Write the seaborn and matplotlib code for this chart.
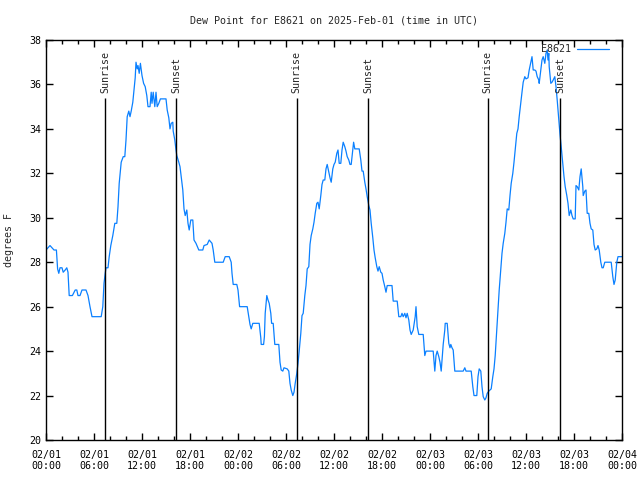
import matplotlib
matplotlib.use("Agg")
import matplotlib.pyplot as plt
import matplotlib.dates as mdates
import seaborn as sns
import pandas as pd

# Dew point trace, hours after 2025-02-01 00:00 UTC
hours = [0.0, 0.5, 1.0, 1.3, 1.45, 1.6, 1.75, 2.0, 2.15, 2.4, 2.6, 2.75, 2.9, 3.3,
         3.65, 3.85, 4.0, 4.25, 4.5, 5.0, 5.25, 5.5, 5.75, 6.9, 7.1, 7.25, 7.4, 7.5,
         7.75, 7.9, 8.1, 8.35, 8.6, 8.85, 9.0, 9.15, 9.4, 9.65, 9.85, 10.0, 10.15,
         10.35, 10.5, 10.65, 10.85, 11.0, 11.15, 11.25, 11.4, 11.5, 11.65, 11.8,
         12.0, 12.2, 12.4, 12.6, 12.75, 13.0, 13.15, 13.25, 13.4, 13.6, 13.75, 13.9,
         14.1, 14.3, 15.0, 15.15, 15.35, 15.5, 15.65, 15.85, 15.9, 16.1, 16.25,
         16.35, 16.6, 16.75, 16.9, 17.1, 17.25, 17.4, 17.6, 17.75, 17.9, 18.1,
         18.35, 18.5, 18.75, 19.1, 19.6, 19.75, 20.15, 20.4, 20.75, 20.9, 21.1,
         22.15, 22.4, 22.9, 23.15, 23.25, 23.4, 23.85,
         24.0, 24.2, 25.15, 25.35, 25.5, 25.65, 25.85, 26.65, 26.85, 26.9, 27.2,
         27.3, 27.4, 27.6, 27.75, 27.9, 28.1, 28.2, 28.4, 28.6, 29.1, 29.25, 29.4,
         29.6, 29.75, 30.15, 30.35, 30.5, 30.65, 30.85, 31.0, 31.15, 31.35, 31.5,
         31.65, 31.85, 32.0, 32.15, 32.35, 32.5, 32.65, 32.85, 33.0, 33.15, 33.35,
         33.5, 33.65, 33.85, 34.0, 34.15, 34.35, 34.5, 34.65, 34.85, 35.0, 35.15,
         35.35, 35.5, 35.65, 35.85,
         36.0, 36.15, 36.35, 36.5, 36.65, 36.85, 37.0, 37.15, 37.35, 37.5, 37.65,
         37.85, 38.0, 38.15, 38.35, 38.45, 38.6, 39.15, 39.35, 39.5, 39.65, 39.85,
         40.0, 40.15, 40.35, 40.5, 40.65, 40.85, 41.0, 41.15, 41.35, 41.5, 41.65,
         41.85, 42.0, 42.15, 42.35, 42.5, 42.65, 43.25, 43.4, 43.9, 44.1, 44.35,
         44.5, 44.65, 44.85, 45.0, 45.15, 45.35, 45.5, 45.65, 45.9, 46.15, 46.25,
         46.4, 46.6, 47.15, 47.25, 47.35, 47.5,
         48.0, 48.4, 48.6, 48.75, 48.9, 49.1, 49.25, 49.4, 49.5, 49.65, 49.85,
         49.9, 50.15, 50.35, 50.5, 50.6, 50.75, 50.9, 51.1, 52.15, 52.35, 52.5,
         53.15, 53.35, 53.5, 53.85, 54.0, 54.15, 54.35, 54.5, 54.65, 54.85, 55.0,
         55.15, 55.35, 55.5, 55.65, 55.85, 56.0, 56.15, 56.35, 56.5, 56.65, 56.85,
         57.0, 57.15, 57.35, 57.5, 57.65, 57.85, 58.0, 58.15, 58.35, 58.5, 58.65,
         58.85, 59.0, 59.15, 59.35, 59.5, 59.65, 59.85,
         60.0, 60.25, 60.4, 60.6, 60.75, 60.9, 61.1, 61.25, 61.4, 61.6, 61.65,
         61.85, 62.0, 62.15, 62.35, 62.5, 62.65, 62.75, 62.85, 62.9, 63.1, 63.25,
         63.4, 63.6, 63.75, 63.9, 64.1, 64.25, 64.4, 64.6, 64.75, 64.9, 65.1,
         65.25, 65.4, 65.6, 65.75, 65.9, 66.15, 66.25, 66.4, 66.6, 66.75, 66.9,
         67.1, 67.15, 67.35, 67.5, 67.65, 67.85, 68.0, 68.15, 68.35, 68.5, 68.65,
         68.85, 69.0, 69.15, 69.35, 69.5, 69.65, 69.85, 70.65, 70.85, 71.0, 71.15,
         71.35, 71.5, 72.0]
dewpoint = [28.55, 28.75, 28.55, 28.55, 27.7, 27.5, 27.75, 27.75, 27.55, 27.65,
            27.75, 27.55, 26.5, 26.5, 26.75, 26.75, 26.5, 26.5, 26.75, 26.75, 26.5,
            26.0, 25.55, 25.55, 26.0, 27.05, 27.5, 27.75, 27.75, 28.25, 28.75, 29.2,
            29.75, 29.75, 30.5, 31.55, 32.5, 32.75, 32.75, 33.5, 34.55, 34.8, 34.55,
            34.8, 35.2, 35.75, 36.3, 37.0, 36.7, 36.85, 36.5, 36.95,
            36.4, 36.05, 35.9, 35.5, 35.0, 35.0, 35.65, 35.15, 35.65, 35.0, 35.65,
            35.0, 35.15, 35.35, 35.35, 34.85, 34.5, 34.0, 34.25, 34.3, 33.9, 33.5,
            33.05, 32.8, 32.5, 32.3, 31.85, 31.25, 30.4, 30.1, 30.35, 29.75, 29.45,
            29.9, 29.9, 29.0, 28.85, 28.55, 28.55, 28.75, 28.8, 29.0, 28.85, 28.55,
            28.0, 28.0, 28.25, 28.25, 28.0, 27.5, 27.0, 27.0,
            26.75, 26.0, 26.0, 25.55, 25.2, 25.0, 25.25, 25.25, 24.6, 24.3, 24.3,
            24.65, 25.7, 26.5, 26.3, 26.15, 25.7, 25.25, 25.25, 24.3, 24.3, 23.5,
            23.15, 23.1, 23.25, 23.2, 23.1, 22.55, 22.25, 22.0, 22.15, 22.55, 23.0,
            23.45, 24.0, 24.8, 25.6, 25.7, 26.5, 26.95, 27.7, 27.8, 28.8, 29.2, 29.5,
            29.8, 30.2, 30.65, 30.7, 30.4, 31.0, 31.5, 31.7, 31.7, 32.2, 32.4, 32.05,
            31.8, 31.6, 32.2,
            32.4, 32.5, 32.9, 33.05, 32.45, 32.45, 33.05, 33.4, 33.2, 33.0, 32.75,
            32.6, 32.4, 32.4, 33.05, 33.4, 33.1, 33.1, 32.6, 32.1, 32.1, 31.6, 31.3,
            30.95, 30.55, 30.35, 29.75, 29.1, 28.55, 28.2, 27.8, 27.6, 27.8, 27.55,
            27.5, 27.2, 26.9, 26.65, 26.95, 26.95, 26.25, 26.25, 25.55, 25.55, 25.7,
            25.55, 25.7, 25.5, 25.7, 25.4, 24.95, 24.75, 24.95, 25.55, 26.0, 25.1,
            24.75, 24.75, 24.3, 23.8, 24.0,
            24.0, 24.0, 23.1, 23.8, 24.0, 23.75, 23.5, 23.1, 23.6, 24.3, 24.95, 25.25,
            25.25, 24.35, 24.15, 24.3, 24.15, 24.05, 23.1, 23.1, 23.25, 23.1, 23.1,
            22.4, 22.0, 22.0, 22.85, 23.2, 23.1, 22.4, 21.95, 21.8, 21.9, 22.1, 22.2,
            22.25, 22.3, 22.85, 23.2, 23.8, 24.95, 25.8, 26.75, 27.7, 28.4, 28.85,
            29.3, 29.8, 30.4, 30.35, 31.0, 31.55, 32.0, 32.5, 33.05, 33.8, 34.0,
            34.55, 35.2, 35.65, 36.1, 36.35,
            36.25, 36.3, 36.65, 37.0, 37.25, 36.65, 36.65, 36.6, 36.35, 36.2, 36.05,
            36.65, 37.1, 37.25, 36.95, 37.4, 37.55, 37.1, 37.4, 36.8, 36.05, 36.1,
            36.2, 36.35, 35.9, 35.3, 34.4, 33.75, 33.2, 32.4, 31.85, 31.4, 31.0,
            30.65, 30.1, 30.35, 30.1, 29.95, 29.95, 31.45, 31.4, 31.25, 31.85, 32.2,
            31.4, 31.0, 31.2, 31.25, 30.2, 30.2, 29.75, 29.5, 29.45, 28.8, 28.55,
            28.6, 28.75, 28.55, 28.0, 27.75, 27.75, 28.0, 28.0, 27.35, 27.0, 27.2,
            28.0, 28.25, 28.25]

sunrise = ["2025-02-01 07:25", "2025-02-02 07:20", "2025-02-03 07:12"]
sunset = ["2025-02-01 16:17", "2025-02-02 16:17", "2025-02-03 16:17"]

start = pd.Timestamp("2025-02-01 00:00")
df = pd.DataFrame({"time": start + pd.to_timedelta(hours, unit="h"),
                   "dewpoint": dewpoint})

sns.set_style("ticks")
plt.rcParams["font.family"] = ["DejaVu Sans Mono"]
plt.rcParams["font.size"] = 7.2

fig = plt.figure(figsize=(6.4, 4.8), dpi=100)
ax = fig.add_axes([46 / 640, 40 / 480, 576 / 640, 400 / 480])

sns.lineplot(data=df, x="time", y="dewpoint", ax=ax, color="#0a80ff",
             linewidth=0.9, label="E8621")

# sunrise / sunset markers
for t in sunrise:
    ax.vlines(pd.Timestamp(t), 20, 35.4, color="black", linewidth=1.0)
    ax.text(pd.Timestamp(t), 35.6, "Sunrise", rotation=90, ha="center",
            va="bottom", fontsize=7.2)
for t in sunset:
    ax.vlines(pd.Timestamp(t), 20, 35.4, color="black", linewidth=1.0)
    ax.text(pd.Timestamp(t), 35.6, "Sunset", rotation=90, ha="center",
            va="bottom", fontsize=7.2)

ax.set_xlim(start, start + pd.Timedelta(hours=72))
ax.set_ylim(20, 38)
ax.set_yticks(range(20, 39, 2))
ax.xaxis.set_major_locator(mdates.HourLocator(byhour=[0, 6, 12, 18]))
ax.xaxis.set_minor_locator(mdates.HourLocator(interval=2))
ax.xaxis.set_major_formatter(mdates.DateFormatter("%m/%d\n%H:%M"))

ax.tick_params(which="both", direction="in", top=True, right=True,
               colors="black", labelsize=7.2)
ax.tick_params(which="major", length=5, width=1)
ax.tick_params(which="minor", length=3, width=1)
ax.tick_params(axis="x", which="major", pad=7)
for s in ax.spines.values():
    s.set_visible(True)
    s.set_color("black")
    s.set_linewidth(1.0)

ax.set_xlabel("")
ax.set_ylabel("degrees F", fontsize=7.2)
ax.yaxis.set_label_coords(-0.055, 0.5)
ax.set_title("Dew Point for E8621 on 2025-Feb-01 (time in UTC)", fontsize=7.2,
             pad=12)

leg = ax.legend(loc="upper right", bbox_to_anchor=(0.988, 1.005),
                frameon=False, markerfirst=False, handlelength=3.2,
                fontsize=7.2, borderaxespad=0.2, handletextpad=0.6)

fig.savefig("out.png", dpi=100)
